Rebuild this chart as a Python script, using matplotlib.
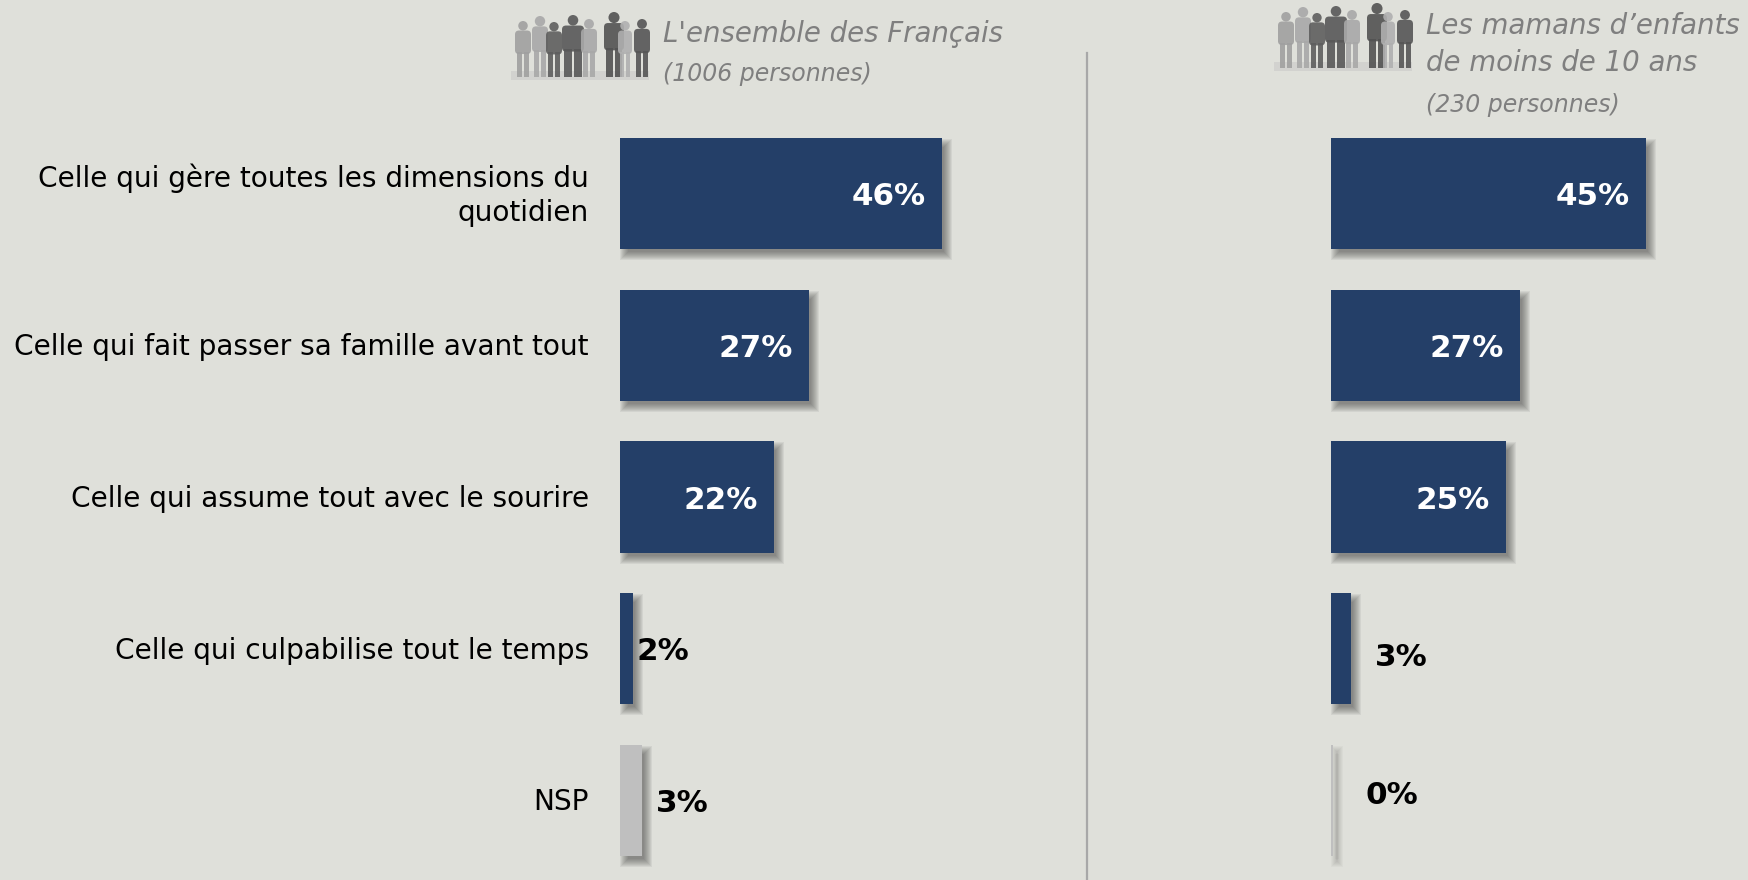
import matplotlib
matplotlib.use("Agg")

import matplotlib.pyplot as plt
from matplotlib.patches import Circle, FancyBboxPatch, Rectangle


W, H = 1749, 880
BG = "#dfe0da"
NAVY = "#243f68"
GREY_BAR = "#bfbfbf"
HEAD_GREY = "#7f7f7f"
PX_PER_PCT = 7.0
ROW_PX = 151.7
ROW0_PX = 193.6

categories = [
    "Celle qui gère toutes les dimensions du\nquotidien",
    "Celle qui fait passer sa famille avant tout",
    "Celle qui assume tout avec le sourire",
    "Celle qui culpabilise tout le temps",
    "NSP",
]

# bar lengths as measured on the picture, printed labels kept apart
left_vals = [46, 27, 22, 1.9, 3.2]
right_vals = [45, 27, 25, 2.9, 0.4]
left_labels = ["46%", "27%", "22%", "2%", "3%"]
right_labels = ["45%", "27%", "25%", "3%", "0%"]

bar_colors = [NAVY, NAVY, NAVY, NAVY, GREY_BAR]

# silhouettes of the little crowd: x, height, grey
crowd_x = [10, 27, 41, 60, 76, 101, 112, 129]
crowd_h = [56, 61, 55, 62, 58, 65, 56, 58]
crowd_w = [16, 16, 16, 22, 16, 20, 14, 16]
crowd_grey = ["#a0a0a0", "#a8a8a8", "#5e5e5e", "#585858", "#a8a8a8", "#525252", "#b0b0b0", "#565656"]


def draw_shadow(ax, width, row, height, strength=1.0):
    # stack of growing rectangles, gives the blurred edge of the original
    dx, dy = 5 / PX_PER_PCT, 6 / ROW_PX
    for grow in [5, 4, 3, 2, 1, 0, -1, -2, -3]:
        gx, gy = grow / PX_PER_PCT, grow / ROW_PX
        ax.add_patch(
            Rectangle(
                (dx - gx, row - height / 2 + dy - gy),
                width + 2 * gx,
                height + 2 * gy,
                color="#3a3a3a",
                lw=0,
                alpha=0.075 * strength,
                clip_on=False,
                zorder=1,
            )
        )


def draw_panel(x0_px, values, labels, offsets):
    # 7 px per percentage point, rows 151.7 px apart
    ax = fig.add_axes([x0_px / W, 0, 50 * PX_PER_PCT / W, 1])
    ax.set_xlim(0, 50)
    ax.set_ylim((H - ROW0_PX) / ROW_PX, -ROW0_PX / ROW_PX)
    ax.axis("off")
    ax.patch.set_alpha(0)

    height = 0.735
    ax.barh(range(len(values)), values, height=height, color=bar_colors, zorder=2)
    for i, val in enumerate(values):
        draw_shadow(ax, val, i, height, 0.45 if val < 1 else 1.0)

    for i, (val, lab, off) in enumerate(zip(values, labels, offsets)):
        inside = val > 10
        ax.annotate(
            lab,
            xy=(val, i),
            xytext=off,
            textcoords="offset pixels",
            ha="right" if inside else "left",
            va="center",
            color="white" if inside else "black",
            fontsize=22.3,
            fontweight="bold",
            family="DejaVu Sans",
            zorder=3,
        )
    return ax


def draw_crowd(ax, x0, base):
    ax.add_patch(Rectangle((x0 - 2, base - 6), 138, 9, color="#cfcfcd", lw=0, alpha=0.8))
    for x, h, w, grey in zip(crowd_x, crowd_h, crowd_w, crowd_grey):
        head = h * 0.085
        top = base - h
        ax.add_patch(Circle((x0 + x, top + head), head, color=grey, lw=0, alpha=0.9))
        # torso
        ax.add_patch(
            FancyBboxPatch(
                (x0 + x - w / 2, top + 2 * head),
                w,
                h * 0.42,
                boxstyle="round,pad=0,rounding_size=4",
                color=grey,
                lw=0,
                alpha=0.9,
            )
        )
        # legs
        for side in (-1, 1):
            ax.add_patch(
                Rectangle(
                    (x0 + x + side * w * 0.22 - w * 0.17, top + 2 * head + h * 0.38),
                    w * 0.34,
                    h - 2 * head - h * 0.38,
                    color=grey,
                    lw=0,
                    alpha=0.9,
                )
            )


fig = plt.figure(figsize=(W / 100, H / 100), dpi=100, facecolor=BG)

# page layer in picture pixels, for the header and the row labels
page = fig.add_axes([0, 0, 1, 1])
page.set_xlim(0, W)
page.set_ylim(H, 0)
page.axis("off")

page.plot([1087.5, 1087.5], [53, H], color="#a8a8a8", lw=1.6)

draw_crowd(page, 513, 77)
draw_crowd(page, 1276, 68)

head_big = dict(fontsize=19.9, style="italic", color=HEAD_GREY, va="center", family="DejaVu Sans")
head_small = dict(fontsize=17, style="italic", color=HEAD_GREY, va="center", family="DejaVu Sans")
page.text(663, 34, "L'ensemble des Français", **head_big)
page.text(663, 74, "(1006 personnes)", **head_small)
page.text(1426, 26, "Les mamans d’enfants", **head_big)
page.text(1426, 63, "de moins de 10 ans", **head_big)
page.text(1426, 105, "(230 personnes)", **head_small)

for i, cat in enumerate(categories):
    page.text(589, ROW0_PX + 2 + i * ROW_PX, cat, fontsize=20.2, ha="right", va="center", color="black", family="DejaVu Sans", linespacing=1.27)

draw_panel(620, left_vals, left_labels, [(-16, -3), (-16, -3), (-16, -3), (3, -3), (14, -3)])
draw_panel(1330.6, right_vals, right_labels, [(-16, -3), (-16, -3), (-16, -3), (24, -9), (32, 5)])

fig.savefig("out.png", dpi=100, facecolor=BG)
plt.close(fig)
